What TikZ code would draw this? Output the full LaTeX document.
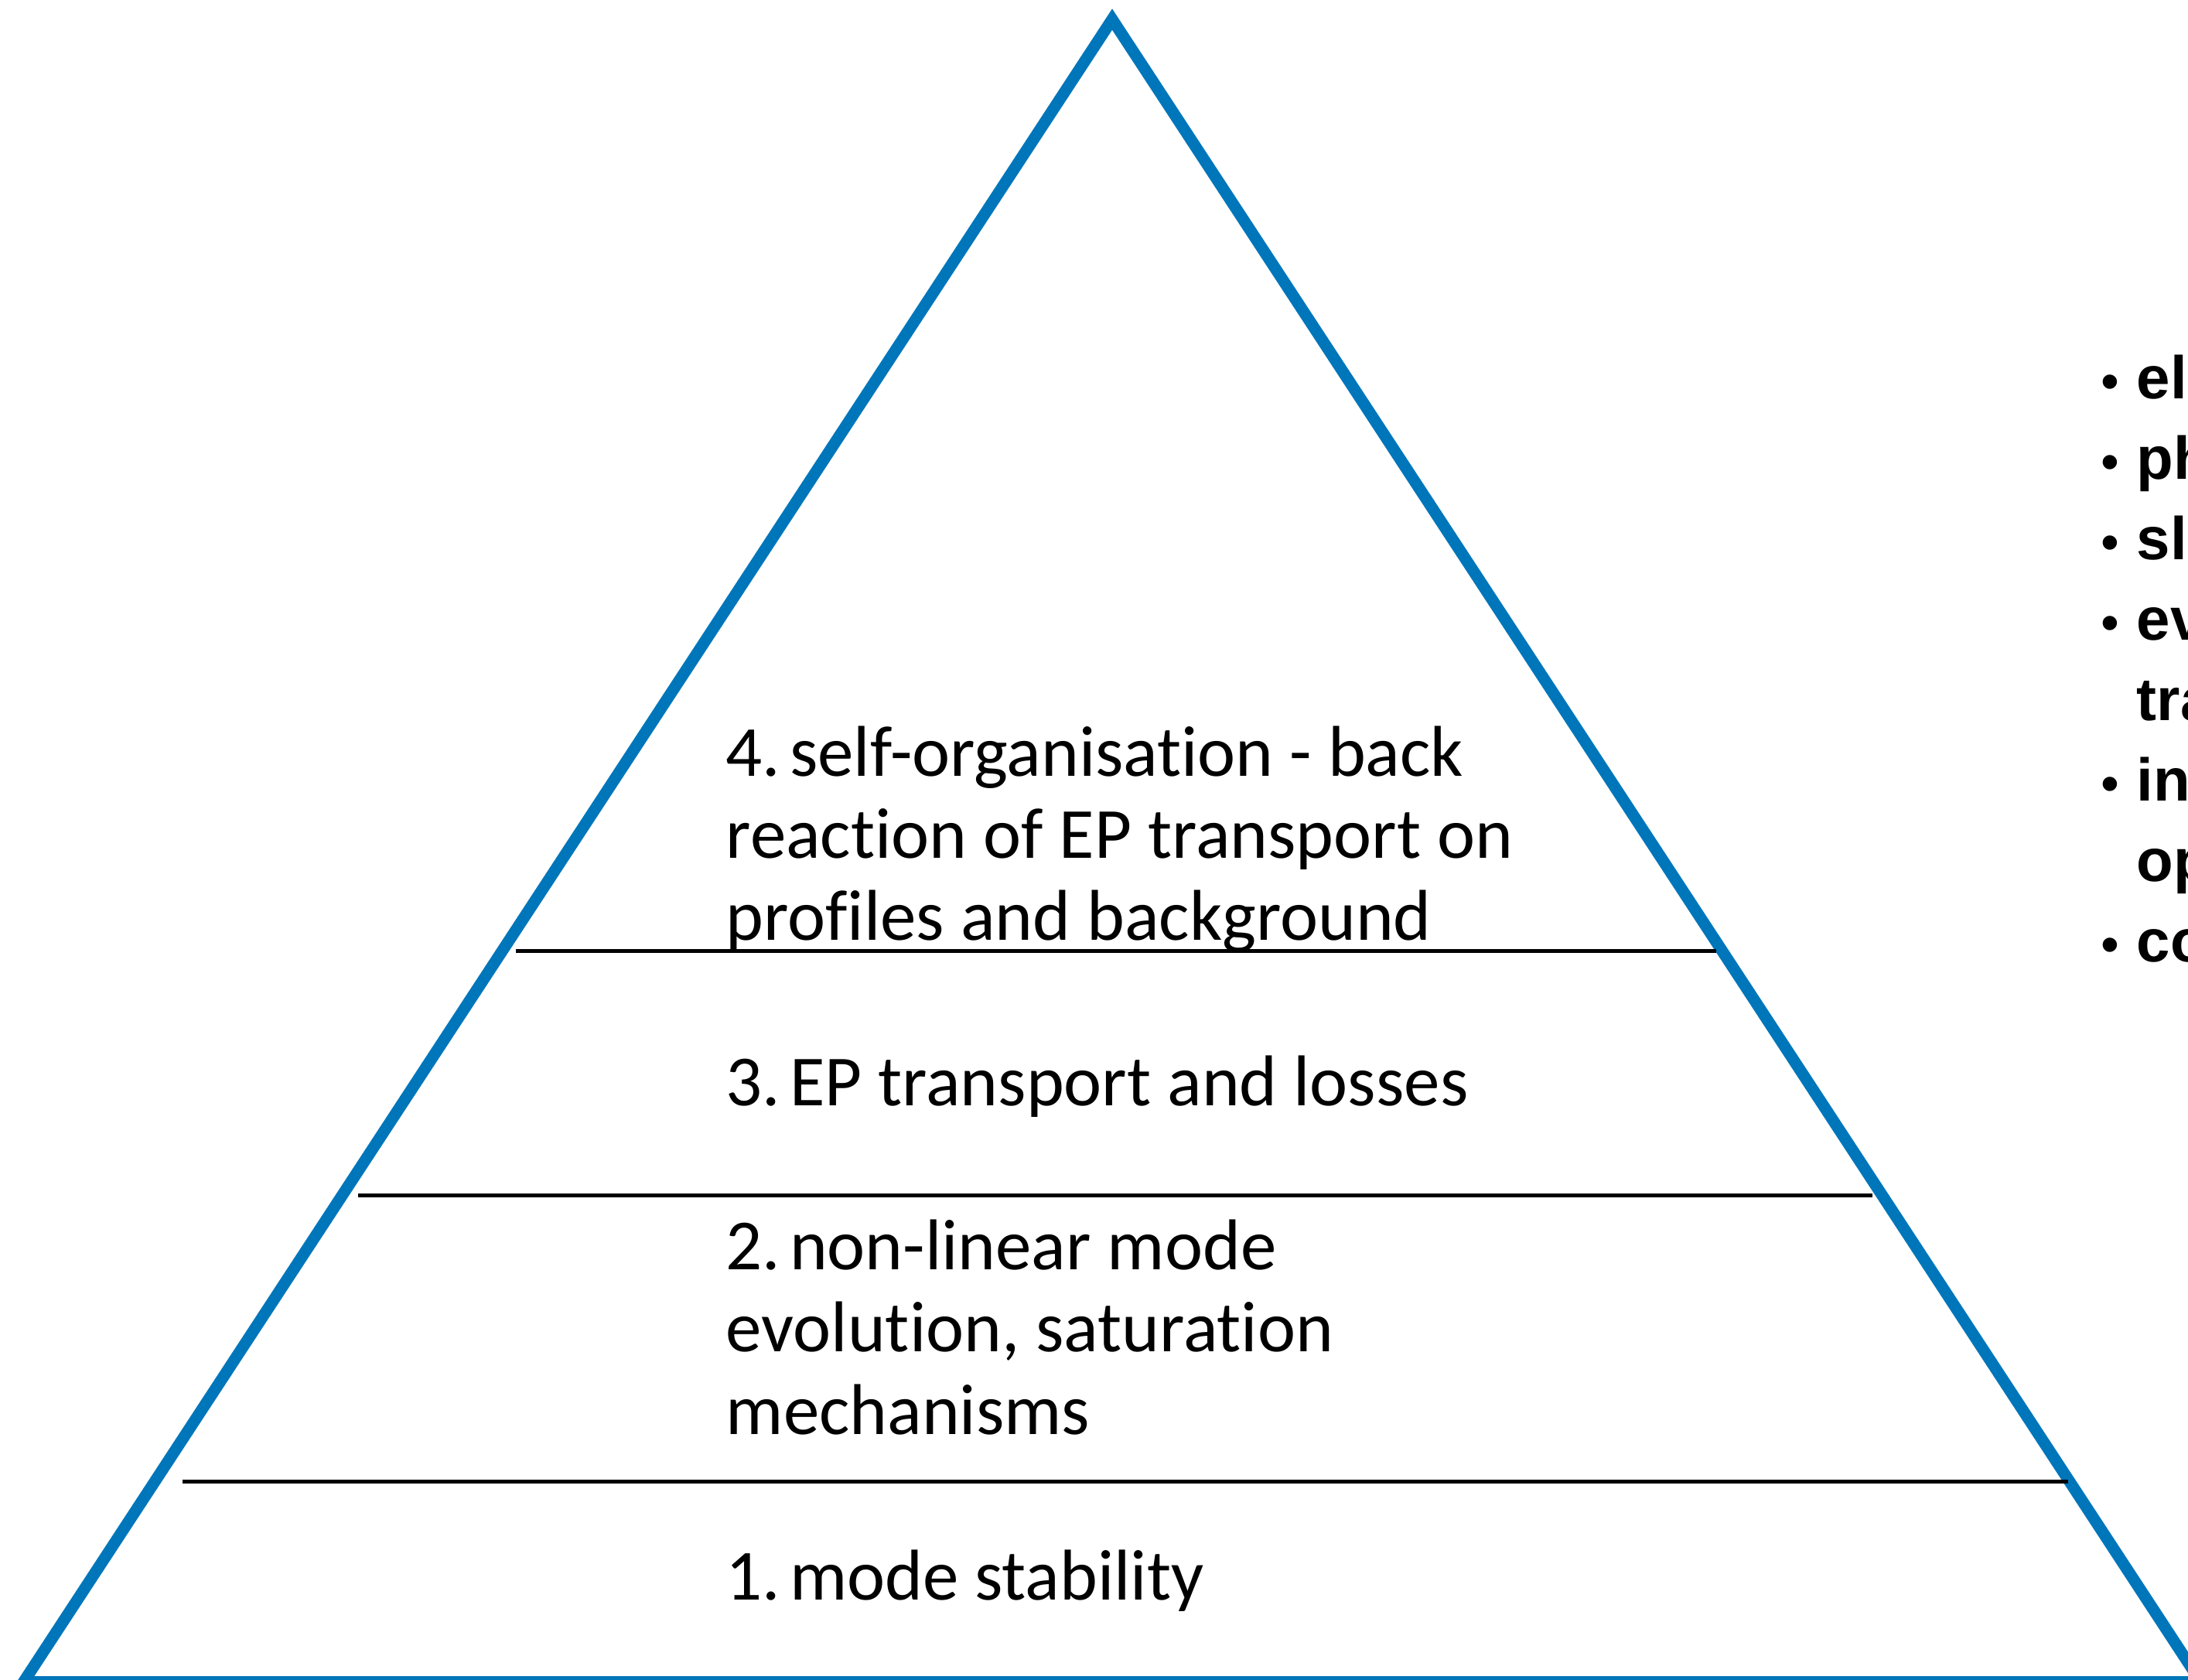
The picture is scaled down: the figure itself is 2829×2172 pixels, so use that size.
\documentclass[tikz,border=0pt]{standalone}
\usepackage{fontspec}
\setmainfont{Carlito}[RawFeature={-liga;-clig;-dlig}]
\newfontfamily\bulletfont{Liberation Sans}
\definecolor{pyrblue}{RGB}{0,118,186}
\newcommand\lvnum[1]{#1\kern-0.1em\ }
\begin{document}
\begin{tikzpicture}[x=0.25pt,y=-0.25pt,
  edge/.style={draw=pyrblue, line width=3.75pt, line join=miter},
  tier/.style={draw=black, line width=1.25pt},
  lvl/.style={anchor=base west, inner sep=0pt, font=\fontsize{23.25}{26.5}\selectfont},
  pnt/.style={anchor=base west, inner sep=0pt, font=\bulletfont\bfseries\fontsize{19.5}{26}\selectfont},
  bul/.style={anchor=base, inner sep=0pt, font=\bulletfont\fontsize{17}{22}\selectfont}]
\useasboundingbox (0,0) rectangle (2829,2172);
% pyramid
\coordinate (apex) at (1438,25);
\coordinate (bl) at (30.5,2174.5);
\coordinate (br) at (2845.5,2174.5);
\draw[edge] (apex) -- (br) -- (bl) -- cycle;
% tier separators
\coordinate (t1l) at (667,1229);  \coordinate (t1r) at (2219,1229);
\coordinate (t2l) at (463,1545);  \coordinate (t2r) at (2421,1545);
\coordinate (t3l) at (236,1915);  \coordinate (t3r) at (2674,1915);
\draw[tier] (t1l) -- (t1r);
\draw[tier] (t2l) -- (t2r);
\draw[tier] (t3l) -- (t3r);
% level texts
\node[lvl] (l4a) at (938,1003) {\lvnum{4.}self-organisation - back};
\node[lvl] (l4b) at (938,1109) {reaction of EP transport on};
\node[lvl] (l4c) at (938,1215) {profiles and background};
\node[lvl] (l3a) at (938,1429) {\lvnum{3.}EP transport and losses};
\node[lvl] (l2a) at (938,1641) {\lvnum{2.}non-linear mode};
\node[lvl] (l2b) at (938,1747) {evolution, saturation};
\node[lvl] (l2c) at (938,1854) {mechanisms};
\node[lvl] (l1a) at (938,2068) {\lvnum{1.}mode stability};
% right-hand list (cut by the page edge)
\foreach \y/\n in {515/0,619/1,723/2,827/3,1035/5,1243/7}{
  \node[bul] (b\n) at (2728,\y+1) {•};
}
\node[pnt] (r0) at (2762,515) {el};
\node[pnt] (r1) at (2762,619) {ph};
\node[pnt] (r2) at (2762,723) {sl};
\node[pnt] (r3) at (2762,827) {ev};
\node[pnt] (r4) at (2762,931) {tra};
\node[pnt] (r5) at (2762,1035) {in};
\node[pnt] (r6) at (2762,1139) {op};
\node[pnt] (r7) at (2762,1243) {co};
\end{tikzpicture}
\end{document}
